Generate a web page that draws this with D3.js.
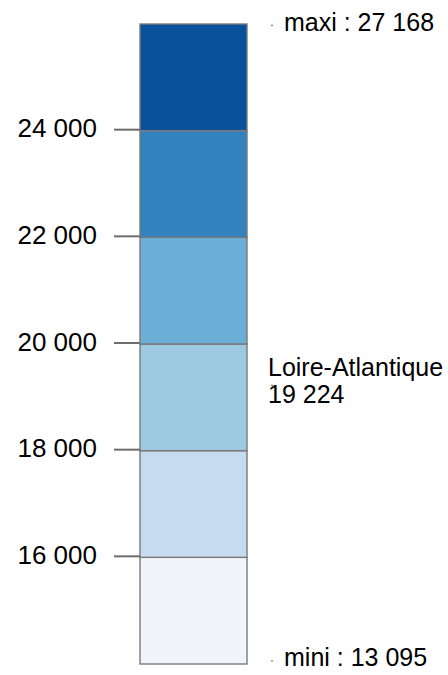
<!DOCTYPE html>
<html><head><meta charset="utf-8">
<script src="https://cdn.jsdelivr.net/npm/d3@7"></script>
<style>body{margin:0;background:#fff}svg{display:block;font-family:"Liberation Sans",Arial,sans-serif}</style>
</head><body><svg id="c" width="448" height="675"></svg>
<script>
const breaks = [13095, 16000, 18000, 20000, 22000, 24000, 27168];
const colors = ["#f1f4f9", "#c6dbef", "#9ecae1", "#6baed6", "#3182bd", "#0a519c"];
const tickValues = [16000, 18000, 20000, 22000, 24000];
const minValue = 13095, maxValue = 27168;
const region = "Loire-Atlantique", regionValue = 19224;

(function () {
const svg = d3.select("#c");
const yTop = 24, yBottom = 664, x0 = 140, x1 = 247;
const step = (yBottom - yTop) / (breaks.length - 1);
const y = d3.scaleLinear().domain(breaks).range(breaks.map((d, i) => yBottom - i * step));
const fmt = v => d3.format(",")(v).replace(/,/g, " ");

const bins = d3.pairs(breaks);
svg.append("g").selectAll("rect").data(bins).join("rect")
  .attr("x", x0).attr("width", x1 - x0)
  .attr("y", d => y(d[1])).attr("height", d => y(d[0]) - y(d[1]))
  .attr("fill", (d, i) => colors[i])
  .attr("stroke", "#7a7a7a").attr("stroke-width", 1.4);

const axis = d3.axisLeft(y).tickValues(tickValues).tickSize(26).tickPadding(17).tickFormat(fmt);
const g = svg.append("g").attr("transform", `translate(${x0},-1.5)`).call(axis);
g.select(".domain").remove();
g.attr("font-family", null).attr("font-size", null);
g.selectAll(".tick line").attr("stroke", "#6e6e6e").attr("stroke-width", 2);
g.selectAll(".tick text").attr("fill", "#000").attr("font-size", "26px").attr("dy", "0.3em");

const labels = [
  {v: maxValue, lines: ["maxi : " + fmt(maxValue)], dx: 284, dy: [7], dotOff: 1.5},
  {v: minValue, lines: ["mini : " + fmt(minValue)], dx: 284, dy: [2], dotOff: -3},
  {v: regionValue, lines: [region, fmt(regionValue)], dx: 268, dy: [-9, 18], dotOff: 0}
];
labels.forEach(l => {
  const yy = y(l.v);
  svg.append("rect").attr("x", 271).attr("y", yy + l.dotOff - 0.7).attr("width", 2).attr("height", 1.4).attr("fill", "#888");
  l.lines.forEach((t, i) => {
    svg.append("text").attr("x", l.dx).attr("y", yy + l.dy[i]).attr("font-size", "25px").attr("fill", "#000").text(t);
  });
});
})();
</script></body></html>
